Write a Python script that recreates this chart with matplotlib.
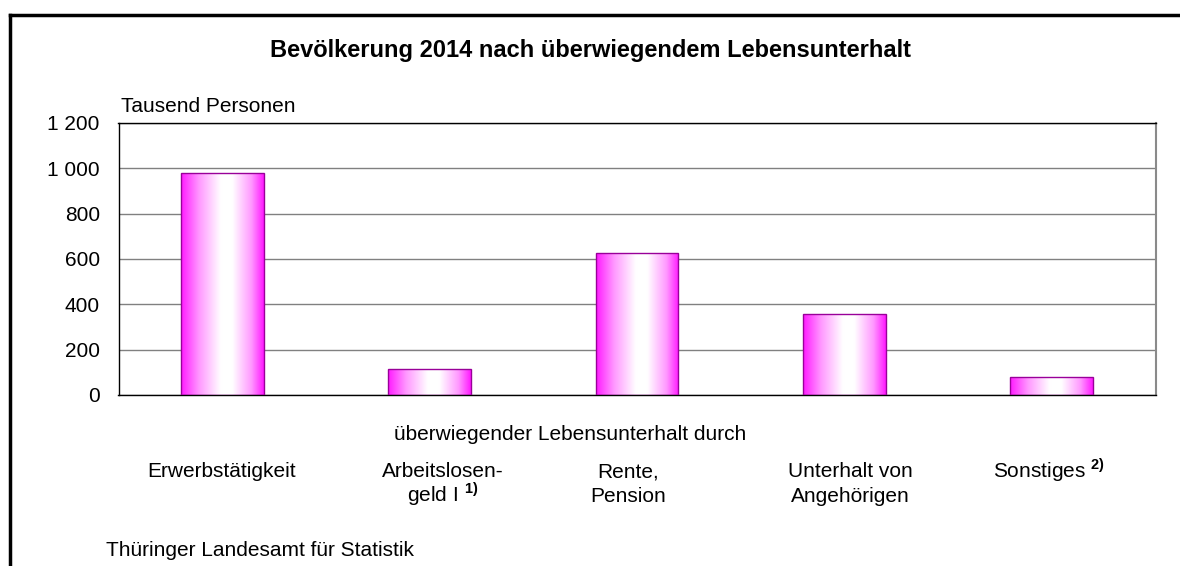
import numpy as np
import matplotlib
matplotlib.use("Agg")
import matplotlib.pyplot as plt
from matplotlib.colors import LinearSegmentedColormap
from matplotlib.lines import Line2D
from matplotlib.transforms import offset_copy

plt.rcParams['font.family'] = ['Liberation Sans', 'DejaVu Sans']
plt.rcParams['mathtext.fontset'] = 'custom'
plt.rcParams['mathtext.rm'] = 'Liberation Sans'
plt.rcParams['mathtext.bf'] = 'Liberation Sans:bold'

# ---- data ----
categories = ["Erwerbstätigkeit", "Arbeitslosen-\ngeld I $^{\\mathbf{1)}}$", "Rente,\nPension",
              "Unterhalt von\nAngehörigen", "Sonstiges $^{\\mathbf{2)}}$"]
values = [978, 116, 627, 357, 78]
yticks = [0, 200, 400, 600, 800, 1000, 1200]
ytick_labels = ["0", "200", "400", "600", "800", "1 000", "1 200"]
title = "Bevölkerung 2014 nach überwiegendem Lebensunterhalt"
ylabel = "Tausend Personen"
xlabel = "überwiegender Lebensunterhalt durch"
source = "Thüringer Landesamt für Statistik"

# layout only: horizontal nudges (pixels) of the category labels
label_dx = [-1, 13, -9, 6, -3]

W, H = 1180, 566
FS = 15
fig = plt.figure(figsize=(W / 100, H / 100), dpi=100)
fig.patch.set_facecolor("white")

ax = fig.add_axes([118.5 / W, 1 - 395 / H, (1155.5 - 118.5) / W, (395 - 123) / H])
ax.set_xlim(-0.5, len(categories) - 0.5)
ax.set_ylim(0, 1200)
ax.set_yticks(yticks)
ax.set_yticklabels(ytick_labels, fontsize=FS)
ax.set_xticks([])
ax.tick_params(axis='y', length=0, pad=13.5)
for s in ['left', 'bottom', 'top']:
    ax.spines[s].set_color('black')
    ax.spines[s].set_linewidth(1.0)
ax.spines['right'].set_color('#8a8a8a')
ax.spines['right'].set_linewidth(1.5)
ax.set_axisbelow(True)
ax.yaxis.grid(True, color='#808080', linewidth=1.0)

x = np.arange(len(categories))
bars = ax.bar(x, values, width=0.40, color='none', edgecolor='#990099', linewidth=1.0, zorder=3)

cmap = LinearSegmentedColormap.from_list(
    "pinkgrad", [(0.0, '#ff1aff'), (0.22, '#ff99ff'), (0.48, '#ffffff'),
                 (0.62, '#ffffff'), (0.85, '#ff99ff'), (1.0, '#ff1aff')])
grad = np.linspace(0, 1, 256).reshape(1, -1)
for b in bars:
    x0, w, h = b.get_x(), b.get_width(), b.get_height()
    im = ax.imshow(grad, cmap=cmap, aspect='auto', extent=(x0, x0 + w, 0, h),
                   zorder=2, interpolation='bicubic')
    im.set_clip_path(b)
ax.set_xlim(-0.5, len(categories) - 0.5)
ax.set_ylim(0, 1200)

# texts
fig.text(590 / W, 1 - 50 / H, title, ha='center', va='center', fontsize=17, fontweight='bold')
fig.text(121 / W, 1 - 112 / H, ylabel, ha='left', va='baseline', fontsize=FS)
fig.text(570 / W, 1 - 434 / H, xlabel, ha='center', va='center', fontsize=FS)
ybase = 1 - (477 - 123) / (395 - 123)
line_step = 25  # px between baselines
for xi, lab, dx in zip(x, categories, label_dx):
    for li, line in enumerate(lab.split("\n")):
        tr = offset_copy(ax.get_xaxis_transform(), fig=fig, x=dx, y=-li * line_step,
                         units='dots')
        ax.text(xi, ybase, line, transform=tr, ha='center', va='baseline', fontsize=FS)
fig.text(106 / W, 1 - 556.5 / H, source, ha='left', va='baseline', fontsize=FS)

# outer frame (extends beyond right and bottom edge)
fig.add_artist(Line2D([9.5 / W, 9.5 / W], [0, 1 - 15 / H], color='black', linewidth=2.5,
                      transform=fig.transFigure))
fig.add_artist(Line2D([9.5 / W, 1.0], [1 - 15 / H, 1 - 15 / H], color='black', linewidth=2.5,
                      transform=fig.transFigure, solid_capstyle='projecting'))

fig.savefig("out.png", dpi=100)
